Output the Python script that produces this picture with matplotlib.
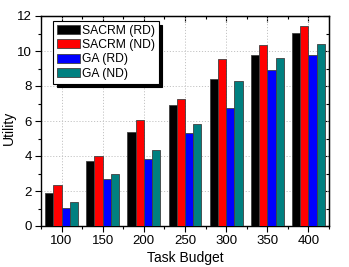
import matplotlib
matplotlib.use("Agg")
import matplotlib.pyplot as plt
import numpy as np
from matplotlib.ticker import MultipleLocator

plt.rcParams['font.family'] = ['Liberation Sans', 'DejaVu Sans']

budgets = [100, 150, 200, 250, 300, 350, 400]
series_names = ["SACRM (RD)", "SACRM (ND)", "GA (RD)", "GA (ND)"]
sacrm_rd = [1.90, 3.73, 5.40, 6.94, 8.42, 9.79, 11.03]
sacrm_nd = [2.36, 3.98, 6.06, 7.24, 9.53, 10.37, 11.45]
ga_rd = [1.05, 2.67, 3.83, 5.32, 6.77, 8.94, 9.75]
ga_nd = [1.35, 2.99, 4.36, 5.81, 8.27, 9.62, 10.38]
colors = ["#000000", "#ff0000", "#0000ff", "#008080"]

fig = plt.figure(figsize=(3.49, 2.67), dpi=100)
ax = fig.add_axes([41/349, 1-226/267, 288/349, 210/267])

x = np.array(budgets, dtype=float)
w = 10
offsets = [-15, -5, 5, 15]
for vals, name, c, off in zip([sacrm_rd, sacrm_nd, ga_rd, ga_nd], series_names, colors, offsets):
    ax.bar(x + off, vals, width=w, color=c, edgecolor="#404040", linewidth=0.6, label=name, zorder=3)

ax.set_xlim(75, 425)
ax.set_ylim(0, 12)
ax.set_xticks(budgets)
ax.xaxis.set_minor_locator(MultipleLocator(25))
ax.yaxis.set_major_locator(MultipleLocator(2))
ax.yaxis.set_minor_locator(MultipleLocator(1))
ax.grid(True, which='major', linestyle=(0, (1.2, 1.8)), color='#c4c4c4', linewidth=0.7, zorder=0)
ax.set_axisbelow(True)

ax.tick_params(axis='both', which='both', direction='out', labelsize=9.5, width=0.8, pad=2.5)
ax.tick_params(which='major', length=4)
ax.tick_params(which='minor', length=2.5)
for s in ax.spines.values():
    s.set_linewidth(1.0)

# mirrored inward ticks on top/right
ax2 = ax.secondary_xaxis('top')
ax2.set_xticks(budgets)
ax2.xaxis.set_minor_locator(MultipleLocator(25))
ax2.tick_params(which='both', direction='in', labeltop=False, width=0.8)
ax2.tick_params(which='major', length=4)
ax2.tick_params(which='minor', length=2.5)
ax3 = ax.secondary_yaxis('right')
ax3.yaxis.set_major_locator(MultipleLocator(2))
ax3.yaxis.set_minor_locator(MultipleLocator(1))
ax3.tick_params(which='both', direction='in', labelright=False, width=0.8)
ax3.tick_params(which='major', length=4)
ax3.tick_params(which='minor', length=2.5)

ax.set_xlabel("Task Budget", fontsize=10, labelpad=3)
ax.set_ylabel("Utility", fontsize=10)
ax.yaxis.set_label_coords(-0.087, 0.469)

leg = ax.legend(loc='upper left', bbox_to_anchor=(0.042, 0.976), borderaxespad=0,
                fontsize=8.7, frameon=True, fancybox=False, edgecolor='black',
                shadow={'color': 'black', 'alpha': 1.0, 'ox': 2.5, 'oy': -2.5},
                handlelength=1.9, handleheight=0.75, handletextpad=0.2,
                labelspacing=0.2, borderpad=0.3)
leg.get_frame().set_linewidth(0.8)
leg.get_frame().set_alpha(1)

fig.savefig("out.png", dpi=100)
